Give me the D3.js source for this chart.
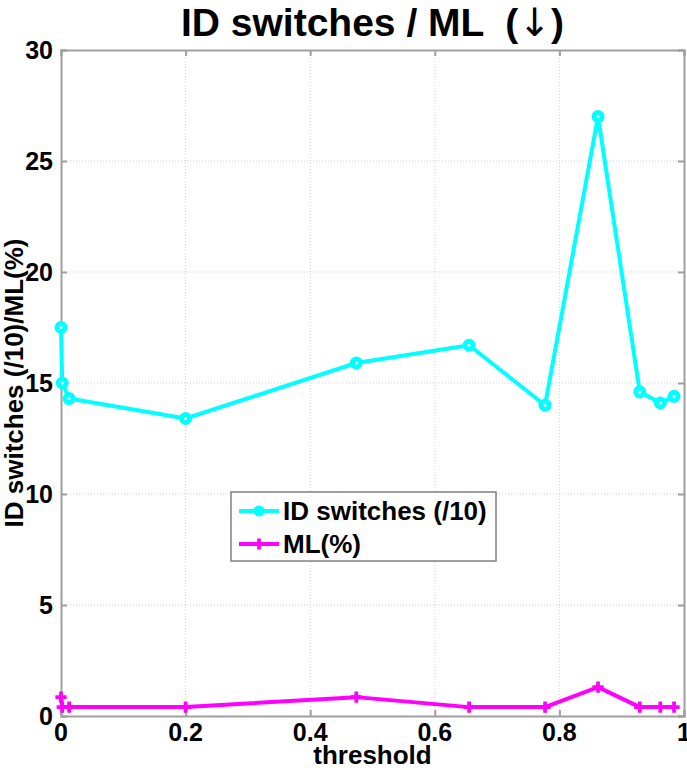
<!DOCTYPE html>
<html>
<head>
<meta charset="utf-8">
<style>
  body { margin: 0; background: #fff; }
  text { font-family: "Liberation Sans", Arial, sans-serif; font-weight: bold; }
</style>
</head>
<body>
<script src="https://cdn.jsdelivr.net/npm/d3@7"></script>
<script>

    const thresholds = [0, 0.002, 0.013, 0.2, 0.474, 0.655, 0.777, 0.862, 0.929, 0.962, 0.984];
    const idSwitches = [17.5, 15.0, 14.3, 13.4, 15.9, 16.7, 14.0, 27.0, 14.6, 14.1, 14.4];
    const mlPct      = [0.85, 0.4, 0.4, 0.4, 0.85, 0.4, 0.4, 1.3, 0.4, 0.4, 0.4];
    const xTicks = [0, 0.2, 0.4, 0.6, 0.8, 1];
    const yTicks = [0, 5, 10, 15, 20, 25, 30];
    const seriesNames = ["ID switches (/10)", "ML(%)"];

    const width = 687, height = 770;
    const margin = {top: 50, right: 3, bottom: 54, left: 61};

    const svg = d3.select("body").append("svg")
        .attr("width", width)
        .attr("height", height);

    const x = d3.scaleLinear().domain([0, 1]).range([margin.left, width - margin.right]);
    const y = d3.scaleLinear().domain([0, 30]).range([height - margin.bottom, margin.top]);

    // grid
    svg.append("g").selectAll("line.gx").data(xTicks.slice(1, -1)).join("line")
        .attr("x1", d => x(d)).attr("x2", d => x(d))
        .attr("y1", y(0)).attr("y2", y(30))
        .attr("stroke", "#d0d0d0").attr("stroke-width", 1).attr("stroke-dasharray", "1,2");
    svg.append("g").selectAll("line.gy").data(yTicks.slice(1, -1)).join("line")
        .attr("y1", d => y(d)).attr("y2", d => y(d))
        .attr("x1", x(0)).attr("x2", x(1))
        .attr("stroke", "#d0d0d0").attr("stroke-width", 1).attr("stroke-dasharray", "1,2");

    // box + inward ticks
    const axisCol = "#a0a0a0";
    const axB = svg.append("g").attr("transform", `translate(0,${y(0)})`)
        .call(d3.axisTop(x).tickValues(xTicks).tickSize(6).tickFormat(""));
    const axT = svg.append("g").attr("transform", `translate(0,${y(30)})`)
        .call(d3.axisBottom(x).tickValues(xTicks).tickSize(6).tickFormat(""));
    const axL = svg.append("g").attr("transform", `translate(${x(0)},0)`)
        .call(d3.axisRight(y).tickValues(yTicks).tickSize(6).tickFormat(""));
    const axR = svg.append("g").attr("transform", `translate(${x(1)},0)`)
        .call(d3.axisLeft(y).tickValues(yTicks).tickSize(6).tickFormat(""));
    [axB, axT, axL, axR].forEach(g => {
        g.selectAll("path").attr("stroke", axisCol).attr("stroke-width", 2);
        g.selectAll("line").attr("stroke", axisCol).attr("stroke-width", 2);
    });

    // tick labels
    svg.append("g").selectAll("text").data(xTicks).join("text")
        .attr("x", d => x(d)).attr("y", y(0) + 25)
        .attr("text-anchor", "middle").attr("font-size", 25)
        .text(d => d3.format("~g")(d));
    svg.append("g").selectAll("text").data(yTicks).join("text")
        .attr("x", x(0) - 8).attr("y", d => y(d) + 9)
        .attr("text-anchor", "end").attr("font-size", 25)
        .text(d => d);

    // labels
    svg.append("text").attr("x", (x(0) + x(1)) / 2).attr("y", 764)
        .attr("text-anchor", "middle").attr("font-size", 26).text("threshold");
    svg.append("text")
        .attr("transform", `translate(23,${(y(0) + y(30)) / 2}) rotate(-90)`)
        .attr("text-anchor", "middle").attr("font-size", 26).text("ID switches (/10)/ML(%)");
    const title = svg.append("text").attr("x", (x(0) + x(1)) / 2).attr("y", 36)
        .attr("text-anchor", "middle").attr("font-size", 39).attr("xml:space", "preserve");
    title.append("tspan").text("ID switches / ML  (");
    title.append("tspan").attr("font-family", "DejaVu Sans").attr("font-weight", "normal").text("\u2193");
    title.append("tspan").text(")");

    const cyan = "#00ffff", magenta = "#ff00ff";
    const line = d3.line().x(d => x(d[0])).y(d => y(d[1]));

    const idData = thresholds.map((t, i) => [t, idSwitches[i]]);
    const mlData = thresholds.map((t, i) => [t, mlPct[i]]);

    svg.append("path").datum(idData).attr("d", line)
        .attr("fill", "none").attr("stroke", cyan).attr("stroke-width", 4).attr("stroke-linejoin", "round");
    svg.append("g").selectAll("circle").data(idData).join("circle")
        .attr("cx", d => x(d[0])).attr("cy", d => y(d[1])).attr("r", 4)
        .attr("fill", "#fff").attr("stroke", cyan).attr("stroke-width", 5);

    svg.append("path").datum(mlData).attr("d", line)
        .attr("fill", "none").attr("stroke", magenta).attr("stroke-width", 4).attr("stroke-linejoin", "round");
    const plus = d3.symbol().type(d3.symbolCross).size(70);
    svg.append("g").selectAll("path").data(mlData).join("path")
        .attr("transform", d => `translate(${x(d[0])},${y(d[1])})`)
        .attr("d", plus).attr("fill", magenta);

    // legend
    const lg = svg.append("g").attr("transform", "translate(231,492)");
    lg.append("rect").attr("width", 265).attr("height", 69)
        .attr("fill", "#fff").attr("stroke", "#808080").attr("stroke-width", 1.5);
    lg.append("line").attr("x1", 8).attr("x2", 48).attr("y1", 19).attr("y2", 19)
        .attr("stroke", cyan).attr("stroke-width", 4);
    lg.append("circle").attr("cx", 28).attr("cy", 19).attr("r", 4)
        .attr("fill", cyan).attr("stroke", cyan).attr("stroke-width", 3);
    lg.append("line").attr("x1", 8).attr("x2", 48).attr("y1", 52).attr("y2", 52)
        .attr("stroke", magenta).attr("stroke-width", 4);
    lg.append("path").attr("transform", "translate(28,52)").attr("d", plus).attr("fill", magenta);
    lg.selectAll("text.lab").data(seriesNames).join("text")
        .attr("x", 52).attr("y", (d, i) => 28 + i * 33)
        .attr("font-size", 26).text(d => d);
</script>
</body>
</html>
